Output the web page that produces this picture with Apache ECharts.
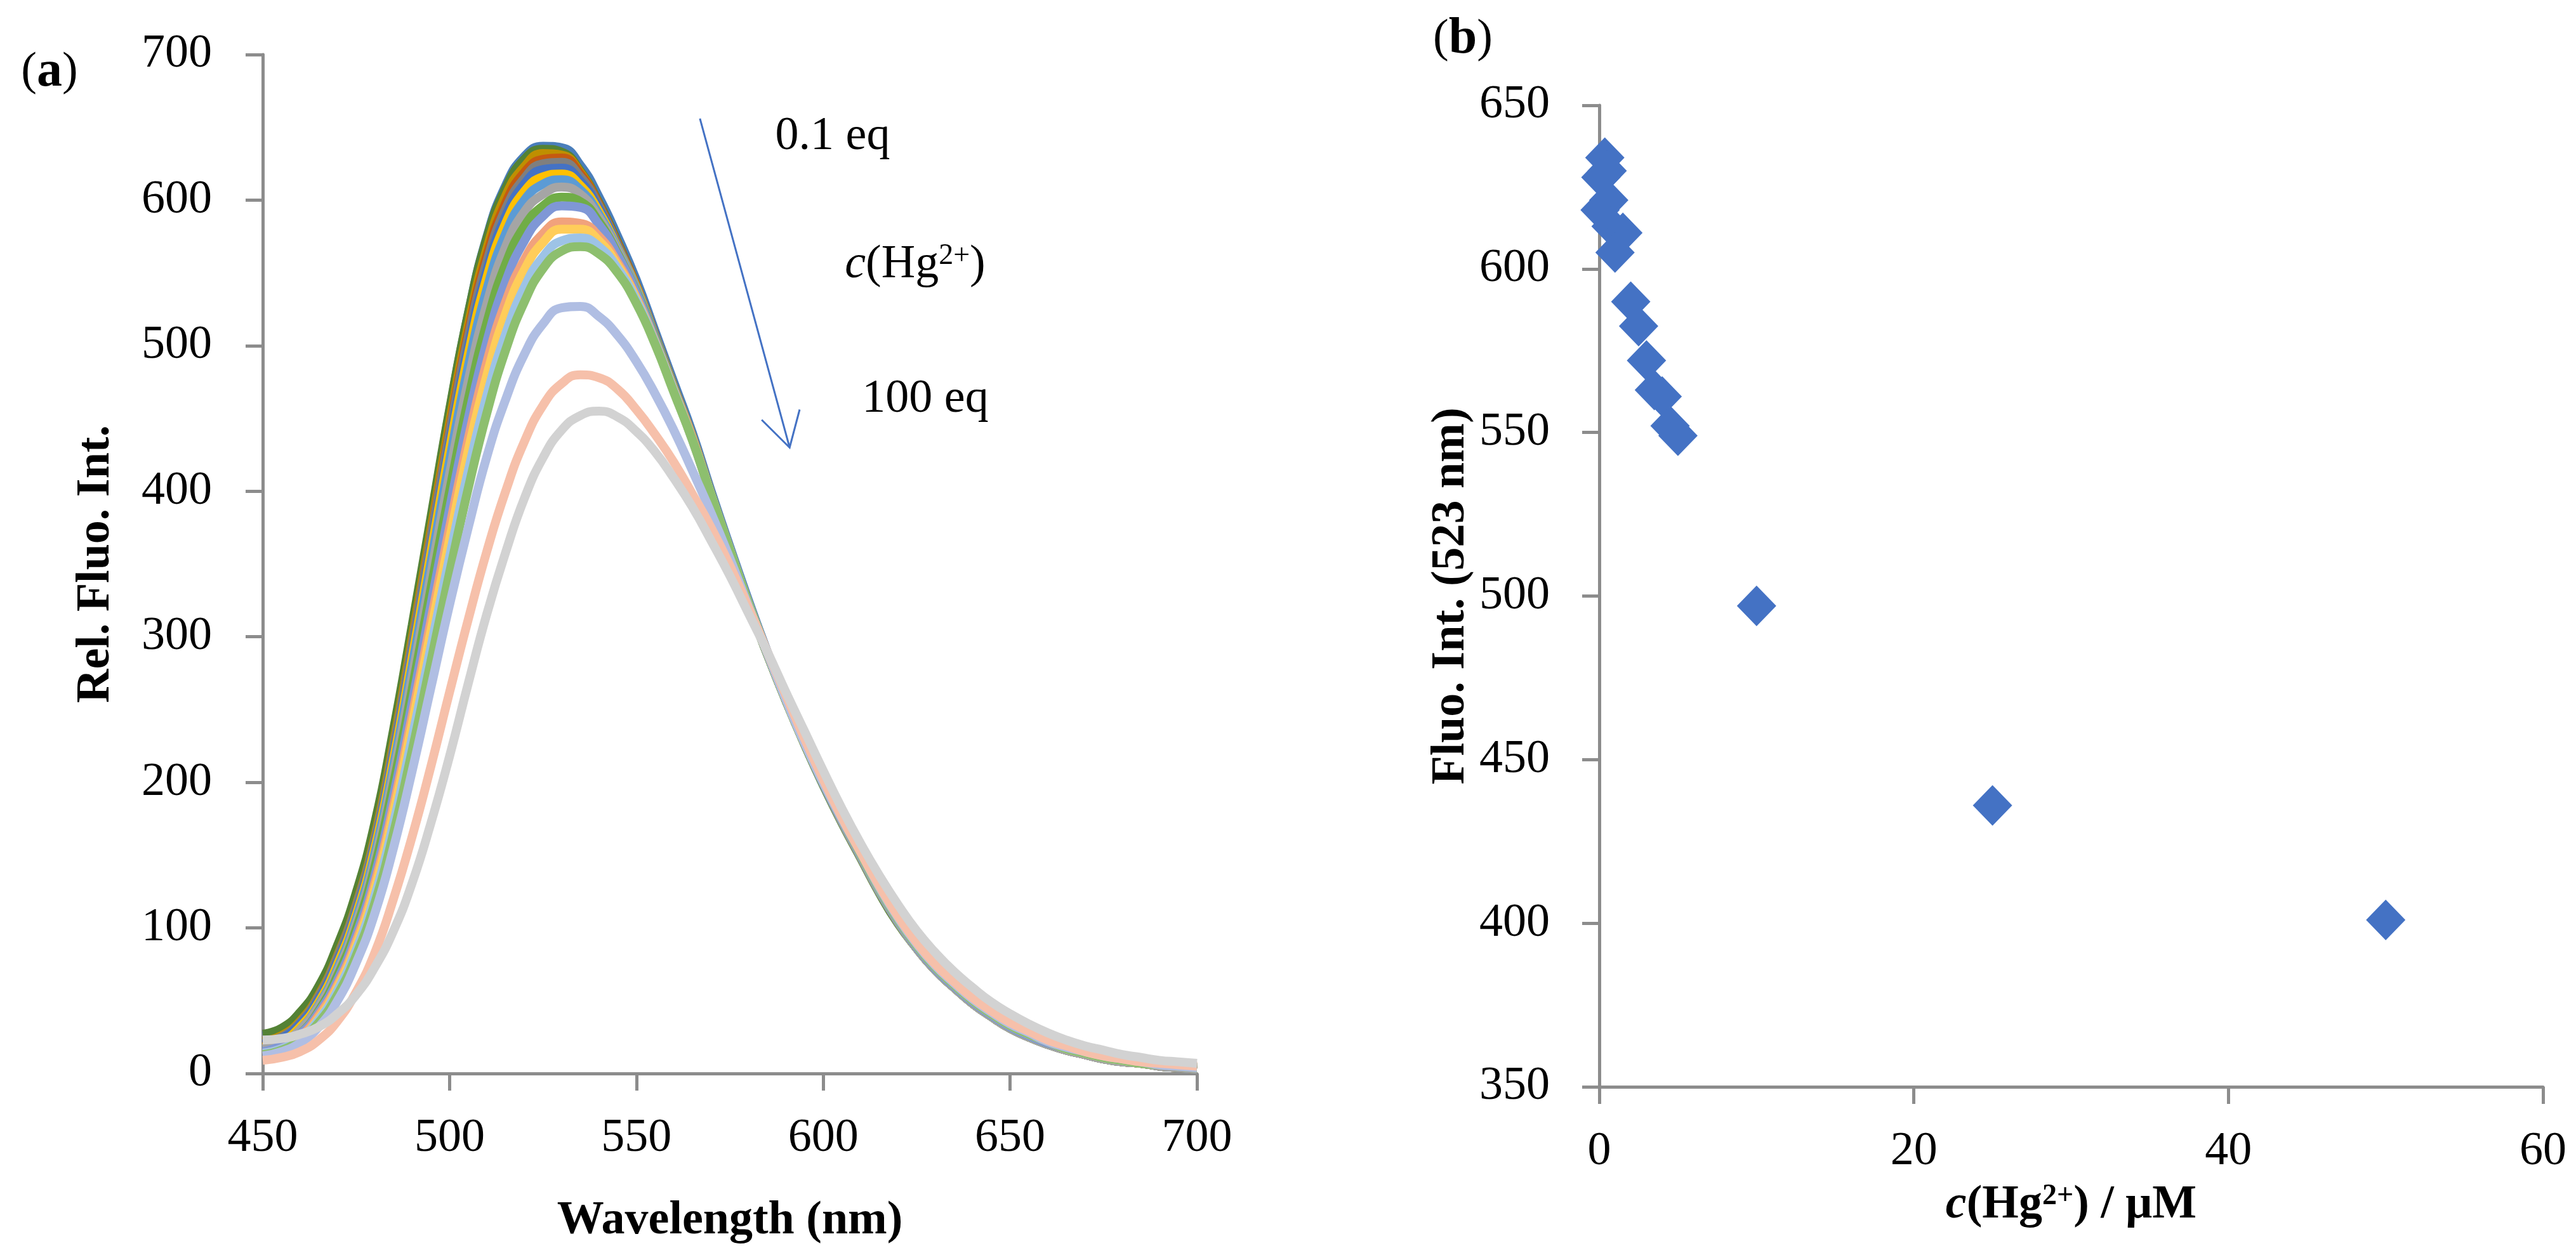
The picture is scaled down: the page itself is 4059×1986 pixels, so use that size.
<!DOCTYPE html>
<html>
<head>
<meta charset="utf-8">
<title>Fluorescence titration with Hg2+</title>
<script src="https://cdn.jsdelivr.net/npm/echarts@6/dist/echarts.min.js"></script>
<style>
  html, body { margin: 0; padding: 0; background: #fff; }
  #main { width: 4059px; height: 1986px; }
</style>
</head>
<body>
<div id="main"></div>
<script>
var FONT = 'Liberation Serif';
var AXIS_GRAY = '#8c8c8c';

// (a) emission spectra, read every 5 nm
var wavelengths = [450,455,460,465,470,475,480,485,490,495,500,505,510,515,520,525,530,535,540,545,
                   550,555,560,565,570,575,580,585,590,595,600,605,610,615,620,625,630,635,640,645,
                   650,655,660,665,670,675,680,685,690,695,700];

var spec01 = [26,30,40,58,85,120,168,232,305,380,455,522,575,610,630,637,636,624,602,575,545,510,475,440,400,362,325,290,258,228,200,174,150,125,104,87,72,60,49,40,32,26,21,17,14,11,9,7,6,5,4];
var spec02 = [27,31,42,60,88,124,172,236,308,382,456,522,574,608,628,635,633,620,598,571,541,506,471,436,397,359,322,288,256,226,198,172,148,124,103,86,71,59,48,39,31,25,20,16,13,10,8,7,5,4,3];
var spec03 = [22,26,36,54,81,116,163,227,299,373,447,514,567,603,623,632,631,619,597,570,541,507,472,437,398,360,323,289,257,227,199,173,149,125,104,86,71,59,48,39,31,25,20,16,13,10,8,7,5,4,3];
var spec04 = [19,23,33,51,78,113,160,223,295,369,442,509,562,598,619,628,629,618,597,570,541,507,472,437,398,360,323,289,257,227,199,173,149,125,104,86,71,59,48,39,31,25,20,16,13,10,8,7,5,4,3];
var spec05 = [21,25,35,53,80,115,161,224,295,368,440,506,558,594,615,625,626,616,596,569,540,506,472,437,398,360,323,289,257,227,199,173,149,125,104,86,71,59,48,39,31,25,20,16,13,10,8,7,5,4,3];
var spec06 = [20,24,34,51,77,111,157,219,289,361,433,499,552,589,611,621,622,613,594,568,540,506,471,437,398,360,323,289,257,227,199,173,149,125,104,86,71,59,48,39,31,25,20,16,13,10,8,7,5,4,3];
var spec07 = [18,22,32,49,75,109,155,216,286,358,429,494,547,584,606,616,618,610,592,567,540,506,471,437,398,360,323,289,257,227,199,173,149,125,104,86,71,59,48,39,31,25,20,16,13,10,8,7,5,4,3];
var spec08 = [16,20,30,47,72,106,151,211,280,351,421,486,539,577,600,611,614,607,590,566,539,506,471,436,398,360,323,289,257,227,199,173,149,125,104,86,71,59,48,39,31,25,20,16,13,10,8,7,5,4,3];
var spec09 = [17,21,30,46,70,103,147,206,273,343,412,476,529,568,592,604,609,604,588,565,538,505,471,436,398,360,323,289,257,227,199,173,149,125,104,86,71,59,48,39,31,25,20,16,13,10,8,7,5,4,3];
var spec10 = [14,18,27,43,67,99,142,199,264,333,400,463,516,556,582,596,602,599,585,563,537,505,471,436,398,360,323,289,257,227,199,174,150,126,105,87,72,60,49,40,32,26,21,17,14,11,9,7,6,5,4];
var spec11 = [15,19,27,42,64,95,136,191,255,322,388,450,503,544,572,589,596,595,583,562,536,504,470,436,397,360,323,289,257,227,199,174,150,126,105,87,72,60,49,40,32,26,21,17,14,11,9,7,6,5,4];
var spec12 = [14,17,25,40,61,91,131,184,246,311,375,436,489,530,559,577,585,584,575,557,533,503,470,436,397,360,323,289,257,227,200,175,151,127,106,88,73,61,50,41,33,27,22,17,14,11,9,7,6,5,4];
var spec13 = [13,16,24,38,59,88,127,179,240,304,367,428,480,522,552,571,580,580,572,555,532,502,469,435,397,360,323,289,257,227,200,175,151,127,106,88,73,61,50,41,33,27,22,17,14,11,9,7,6,5,4];
var spec14 = [14,17,24,37,57,85,122,172,231,293,355,414,466,508,540,561,572,574,568,553,531,502,469,435,397,360,323,289,257,227,200,175,151,127,106,88,73,61,50,41,33,27,22,17,14,11,9,7,6,5,4];
var spec15 = [13,16,23,35,54,81,117,165,222,283,344,402,454,497,530,553,565,568,563,550,529,501,468,435,397,360,323,289,257,227,200,175,151,127,106,88,73,61,50,41,33,27,22,17,14,11,9,7,6,5,4];
var spec16 = [12,15,21,32,50,76,110,155,208,265,322,375,424,463,494,515,526,527,520,507,489,467,442,414,385,354,321,289,257,227,200,175,152,128,107,89,74,62,51,42,34,28,22,18,15,12,10,8,6,5,4];
var spec17 = [9,11,15,23,36,56,83,120,163,211,262,312,359,400,434,459,474,480,478,470,456,439,420,398,375,349,320,290,260,230,202,176,152,129,108,90,75,63,52,43,35,29,23,19,15,12,10,8,7,6,5];
var spec18 = [23,24,27,32,41,54,73,98,131,172,218,268,316,358,395,423,442,452,455,451,441,427,409,389,366,342,316,290,262,235,208,182,158,136,116,98,83,70,59,49,41,34,28,23,19,16,13,11,9,8,7];

var spectra = [spec01,spec02,spec03,spec04,spec05,spec06,spec07,spec08,spec09,
               spec10,spec11,spec12,spec13,spec14,spec15,spec16,spec17,spec18];
var lineColors = ['#4a7ebb','#548235','#bf8f00','#c55a11','#7f7f7f','#4472c4','#ffc000','#5b9bd5','#a5a5a5',
                  '#70ad47','#7f97d6','#f1a27c','#ffcd5a','#9dc3e6','#8dbf6e','#b0bee3','#f6c0aa','#d2d2d2'];

// (b) intensity at 523 nm vs c(Hg2+)
var concHg = [0.35,0.5,0.1,0.6,0.05,0.75,1.5,1.0,2.0,2.5,3.0,3.5,4.0,4.5,5.0,10,25,50];
var fluo523 = [634,630,628,621,618,613,611,605,590,582.5,572,563,561,552,549,497,436,401];

// annotation arrow, in data units of panel (a)
var arrowFrom = [567, 656];
var arrowTo = [591, 430];

function axisCommon() {
	return {
		axisLine: { show: true, onZero: false, lineStyle: { color: AXIS_GRAY, width: 5 } },
		axisTick: { show: true, length: 27, lineStyle: { color: AXIS_GRAY, width: 5 } },
		splitLine: { show: false },
		nameTextStyle: { fontFamily: FONT, fontSize: 74, fontWeight: 'bold', color: '#000' }
	};
}

function labelStyle(margin) {
	return { fontFamily: FONT, fontSize: 74, color: '#000', margin: margin };
}

var series = [];
for (var i = 0; i < spectra.length; i++) {
	var pts = [];
	for (var k = 0; k < wavelengths.length; k++) {
		pts.push([wavelengths[k], spectra[i][k]]);
	}
	series.push({
		name: 'S' + (i + 1),
		type: 'line',
		xAxisIndex: 0,
		yAxisIndex: 0,
		data: pts,
		showSymbol: false,
		smooth: 0.5,
		lineStyle: { color: lineColors[i], width: 14 },
		itemStyle: { color: lineColors[i] },
		z: 2 + i
	});
}

var scatterPts = [];
for (var j = 0; j < concHg.length; j++) {
	scatterPts.push([concHg[j], fluo523[j]]);
}
series.push({
	name: 'Fluo. Int. (523 nm)',
	type: 'scatter',
	xAxisIndex: 1,
	yAxisIndex: 1,
	data: scatterPts,
	symbol: 'diamond',
	symbolSize: [62, 64],
	itemStyle: { color: '#4472c4', opacity: 1 }
});

var myChart = echarts.init(document.getElementById('main'));
var option = {
	animation: false,
	backgroundColor: '#fff',
	grid: [
		{ left: 414, top: 86, width: 1472, height: 1606 },
		{ left: 2520, top: 166, width: 1487, height: 1547 }
	],
	xAxis: [
		Object.assign(axisCommon(), {
			type: 'value', gridIndex: 0, min: 450, max: 700, interval: 50,
			name: 'Wavelength (nm)', nameLocation: 'middle', nameGap: 196,
			axisLabel: labelStyle(66)
		}),
		Object.assign(axisCommon(), {
			type: 'value', gridIndex: 1, min: 0, max: 60, interval: 20,
			name: '{i|c}(Hg{sup|2+}) / μM', nameLocation: 'middle', nameGap: 150,
			nameTextStyle: {
				fontFamily: FONT, fontSize: 74, fontWeight: 'bold', color: '#000',
				rich: {
					i: { fontFamily: FONT, fontSize: 74, fontWeight: 'bold', fontStyle: 'italic', color: '#000' },
					sup: { fontFamily: FONT, fontSize: 46, fontWeight: 'bold', color: '#000', verticalAlign: 'top' }
				}
			},
			axisLabel: labelStyle(66)
		})
	],
	yAxis: [
		Object.assign(axisCommon(), {
			type: 'value', gridIndex: 0, min: 0, max: 700, interval: 100,
			name: 'Rel. Fluo. Int.', nameLocation: 'middle', nameGap: 225, nameRotate: 90,
			axisLabel: labelStyle(80)
		}),
		Object.assign(axisCommon(), {
			type: 'value', gridIndex: 1, min: 350, max: 650, interval: 50,
			name: 'Fluo. Int. (523 nm)', nameLocation: 'middle', nameGap: 196, nameRotate: 90,
			axisLabel: labelStyle(78)
		})
	],
	series: series
};
myChart.setOption(option);

// arrow and texts
var p0 = myChart.convertToPixel({ xAxisIndex: 0, yAxisIndex: 0 }, arrowFrom);
var p1 = myChart.convertToPixel({ xAxisIndex: 0, yAxisIndex: 0 }, arrowTo);
var dx = p0[0] - p1[0], dy = p0[1] - p1[1];
var len = Math.sqrt(dx * dx + dy * dy);
dx /= len; dy /= len;
var headLen = 62, ang = 30 * Math.PI / 180;
function rot(a) {
	return [p1[0] + headLen * (dx * Math.cos(a) - dy * Math.sin(a)),
	        p1[1] + headLen * (dx * Math.sin(a) + dy * Math.cos(a))];
}

var txt = { fontFamily: FONT, fontSize: 74, fill: '#000', align: 'center', verticalAlign: 'middle' };

myChart.setOption({
	graphic: [
		{ type: 'line', shape: { x1: p0[0], y1: p0[1], x2: p1[0], y2: p1[1] },
		  style: { stroke: '#4472c4', lineWidth: 3 }, z: 50 },
		{ type: 'polyline', shape: { points: [rot(ang), p1, rot(-ang)] },
		  style: { stroke: '#4472c4', lineWidth: 3, fill: null }, z: 50 },
		{ type: 'text', x: 1312, y: 216, style: Object.assign({ text: '0.1 eq' }, txt), z: 50 },
		{ type: 'text', x: 1442, y: 418, z: 50,
		  style: Object.assign({
			text: '{i|c}(Hg{sup|2+})',
			rich: {
				i: { fontFamily: FONT, fontSize: 74, fontStyle: 'italic', fill: '#000' },
				sup: { fontFamily: FONT, fontSize: 46, fill: '#000', verticalAlign: 'top' }
			}
		  }, txt) },
		{ type: 'text', x: 1458, y: 630, style: Object.assign({ text: '100 eq' }, txt), z: 50 },
		{ type: 'text', x: 78, y: 114, z: 50,
		  style: Object.assign({
			text: '({b|a})', fontSize: 80,
			rich: { b: { fontFamily: FONT, fontSize: 80, fontWeight: 'bold', fill: '#000' } }
		  }, txt) },
		{ type: 'text', x: 2305, y: 62, z: 50,
		  style: Object.assign({
			text: '({b|b})', fontSize: 80,
			rich: { b: { fontFamily: FONT, fontSize: 80, fontWeight: 'bold', fill: '#000' } }
		  }, txt) }
	]
});

window.onresize = myChart.resize;
</script>
</body>
</html>
